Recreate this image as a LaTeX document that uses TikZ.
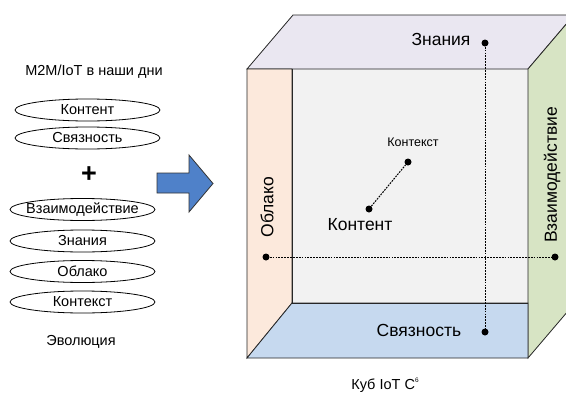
\documentclass[tikz,border=0pt]{standalone}
\usepackage{fontspec}
\setmainfont{Liberation Sans}
\usetikzlibrary{shapes.geometric, positioning}

\definecolor{wallgray}{HTML}{F2F2F2}
\definecolor{topface}{HTML}{EAE7F1}
\definecolor{rightface}{HTML}{D7E4C4}
\definecolor{leftface}{HTML}{FCE9DC}
\definecolor{bottomface}{HTML}{C6D9EF}
\definecolor{arrowblue}{HTML}{4F81C9}

\begin{document}
\begin{tikzpicture}[
      x=1pt, y=-1pt,
      small/.style={font=\fontsize{14.5}{17}\selectfont, inner sep=0pt},
      oval/.style={ellipse, draw=black, line width=0.8pt, fill=white,
                   minimum width=145pt, minimum height=22pt, inner sep=0pt,
                   label={[small]center:#1}},
      lbl/.style={font=\fontsize{17.5}{20}\selectfont, inner sep=0pt},
      face/.style={draw=black!85, line width=0.8pt},
      dot/.style={circle, fill=black, inner sep=0pt, minimum size=7pt},
      link/.style={line width=1pt, dash pattern=on 1.8pt off 1.1pt}
    ]
    \useasboundingbox (0,0) rectangle (566,394);
    \fill[white] (0,0) rectangle (566,394);

    % Left column: today
    \node[small] (today) at (94,72) {M2M/IoT в наши дни};
    \node[oval=Контент] (ovcontent) at (87.5,110) {};
    \node[oval=Связность] (ovconn) at (87.5,138) {};
    \node[font=\fontsize{27}{27}\selectfont\bfseries, inner sep=0pt] (plus) at (89,175) {+};

    % Left column: evolution
    \node[oval=Взаимодействие] (ovinter) at (82.5,209.5) {};
    \node[oval=Знания] (ovknow) at (82.5,241) {};
    \node[oval=Облако] (ovcloud) at (82.5,271.5) {};
    \node[oval=Контекст] (ovcontext) at (82.5,302) {};
    \node[small] (evol) at (81,342) {Эволюция};

    % Big arrow
    \draw[fill=arrowblue, draw=black!80, line width=0.8pt]
      (157,173) -- (189,173) -- (189,155) -- (213,183.5) -- (189,212)
      -- (189,193) -- (157,193) -- cycle;

    % Cube faces
    \begin{scope}
      \clip (0,0) rectangle (566,394);
      \fill[wallgray] (292,69) rectangle (528,303);
      \filldraw[face, fill=topface] (247,69) -- (293,15) -- (574,15) -- (528,69) -- cycle;
      \filldraw[face, fill=rightface] (528,69) -- (574,15) -- (574,304) -- (528,358) -- cycle;
      \filldraw[face, fill=leftface] (247,69) -- (292,69) -- (292,303) -- (247,358) -- cycle;
      \filldraw[face, fill=bottomface] (247,358) -- (292,303) -- (528,303) -- (528,358) -- cycle;
      \draw[face] (292,69) -- (292,303) -- (528,303);
    \end{scope}

    % Axis points
    \node[dot] (dknow) at (485,43) {};
    \node[dot] (dconn) at (485,332) {};
    \node[dot] (dcloud) at (266,257) {};
    \node[dot] (dinter) at (555,257) {};
    \node[dot] (dcontext) at (408,162) {};
    \node[dot] (dcontent) at (369,209) {};

    % Axis labels
    \node[lbl] (lknow) at (441,39) {Знания};
    \node[lbl] (lconn) at (419,330) {Связность};
    \node[lbl, rotate=90] (lcloud) at (267,207) {Облако};
    \node[lbl, rotate=90] (linter) at (552,175) {Взаимодействие};
    \node[font=\fontsize{12.5}{14}\selectfont, inner sep=0pt] (lcontext) at (413,142) {Контекст};
    \node[lbl] (lcontent) at (360,225) {Контент};

    % Dotted axes
    \draw[link] (dknow) -- (dconn);
    \draw[link] (dcloud) -- (dinter);
    \draw[link] (dcontent) -- (dcontext);

    % Caption
    \node[small] (caption) at (385,385)
      {Куб IoT C\raisebox{7pt}{\fontsize{6.5}{7}\selectfont 6}};
  \end{tikzpicture}
\end{document}
